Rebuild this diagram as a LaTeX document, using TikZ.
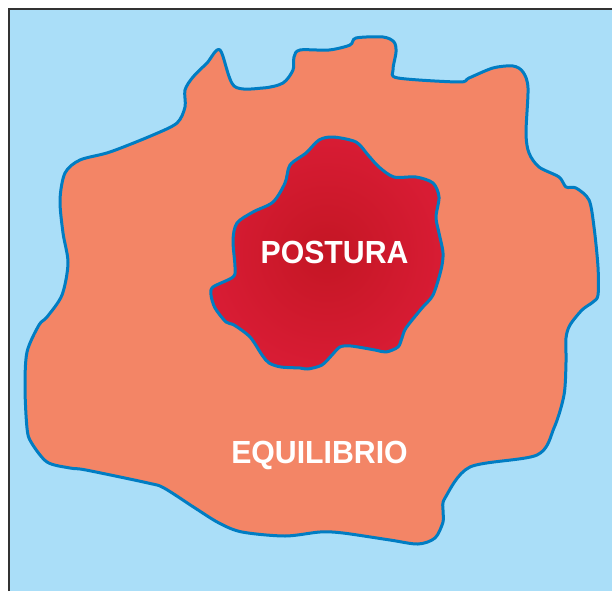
\documentclass[tikz,border=0pt]{standalone}
\usepackage{fontspec}
\setmainfont{Liberation Sans}
\definecolor{skyb}{RGB}{170,222,248}
\definecolor{salmon}{RGB}{243,133,102}
\definecolor{edgeb}{RGB}{0,125,195}
\definecolor{crimin}{RGB}{196,22,36}
\definecolor{crimout}{RGB}{216,28,52}
\definecolor{framec}{RGB}{50,50,50}
\tikzset{
  blobedge/.style={draw=edgeb,line width=3pt,line join=round},
  lbl/.style={text=white,font=\fontsize{32}{32}\selectfont\bfseries,xscale=0.945,anchor=base,inner sep=0pt}
}
\begin{document}
\begin{tikzpicture}[x=1pt,y=-1pt]
\useasboundingbox (0,0) rectangle (612,591);
\fill[white] (0,0) rectangle (612,591);
\fill[skyb] (9,9) rectangle (612,591);
\draw[framec,line width=2.6pt] (9,591) -- (9,9) -- (612,9);
% outer blob
\filldraw[fill=salmon,blobedge] plot[smooth cycle,tension=0.5] coordinates {
(220,50) (234,86) (263,88) (283,83) (293,70) (294,57) (300,50) (329,50) (350,45) (356,38) (383,37) (394,42) (396,52) (393,70) (398,78) (459,82) (469,78) (493,68) (513,66) (523,72) (528,88) (526,133) (529,153) (539,167) (559,177) (566,187) (576,188) (589,200) (594,227) (598,267) (598,295) (593,302) (582,310) (570,325) (566,338) (566,362) (564,395) (554,428) (537,455) (470,467) (445,498) (443,510) (443,522) (435,538) (418,544) (390,540) (343,533) (320,532) (285,536) (242,532) (219,523) (195,508) (164,488) (148,483) (86,470) (70,468) (47,462) (31,442) (27,428) (25,388) (27,352) (39,325) (47,317) (62,295) (68,263) (63,233) (60,200) (65,173) (80,160) (110,152) (153,135) (177,123) (185,107) (185,90) (193,77) (207,63)};
% inner blob
\shade[inner color=crimin,outer color=crimout] plot[smooth cycle,tension=0.5] coordinates {
(319,140) (333,137) (356,142) (368,155) (379,167) (394,177) (416,177) (433,183) (439,197) (436,217) (439,233) (443,253) (441,270) (433,295) (422,308) (406,328) (402,338) (398,347) (386,352) (375,350) (351,346) (340,347) (332,355) (322,365) (308,369) (300,368) (281,367) (269,363) (262,355) (250,337) (234,325) (226,322) (215,308) (211,295) (213,287) (233,277) (235,267) (233,240) (237,223) (253,212) (273,202) (285,183) (290,165) (306,153)};
\draw[blobedge] plot[smooth cycle,tension=0.5] coordinates {
(319,140) (333,137) (356,142) (368,155) (379,167) (394,177) (416,177) (433,183) (439,197) (436,217) (439,233) (443,253) (441,270) (433,295) (422,308) (406,328) (402,338) (398,347) (386,352) (375,350) (351,346) (340,347) (332,355) (322,365) (308,369) (300,368) (281,367) (269,363) (262,355) (250,337) (234,325) (226,322) (215,308) (211,295) (213,287) (233,277) (235,267) (233,240) (237,223) (253,212) (273,202) (285,183) (290,165) (306,153)};
\node[lbl] (postura) at (334.5,263) {POSTURA};
\node[lbl] (equil) at (319.5,463) {EQUILIBRIO};
\end{tikzpicture}
\end{document}
